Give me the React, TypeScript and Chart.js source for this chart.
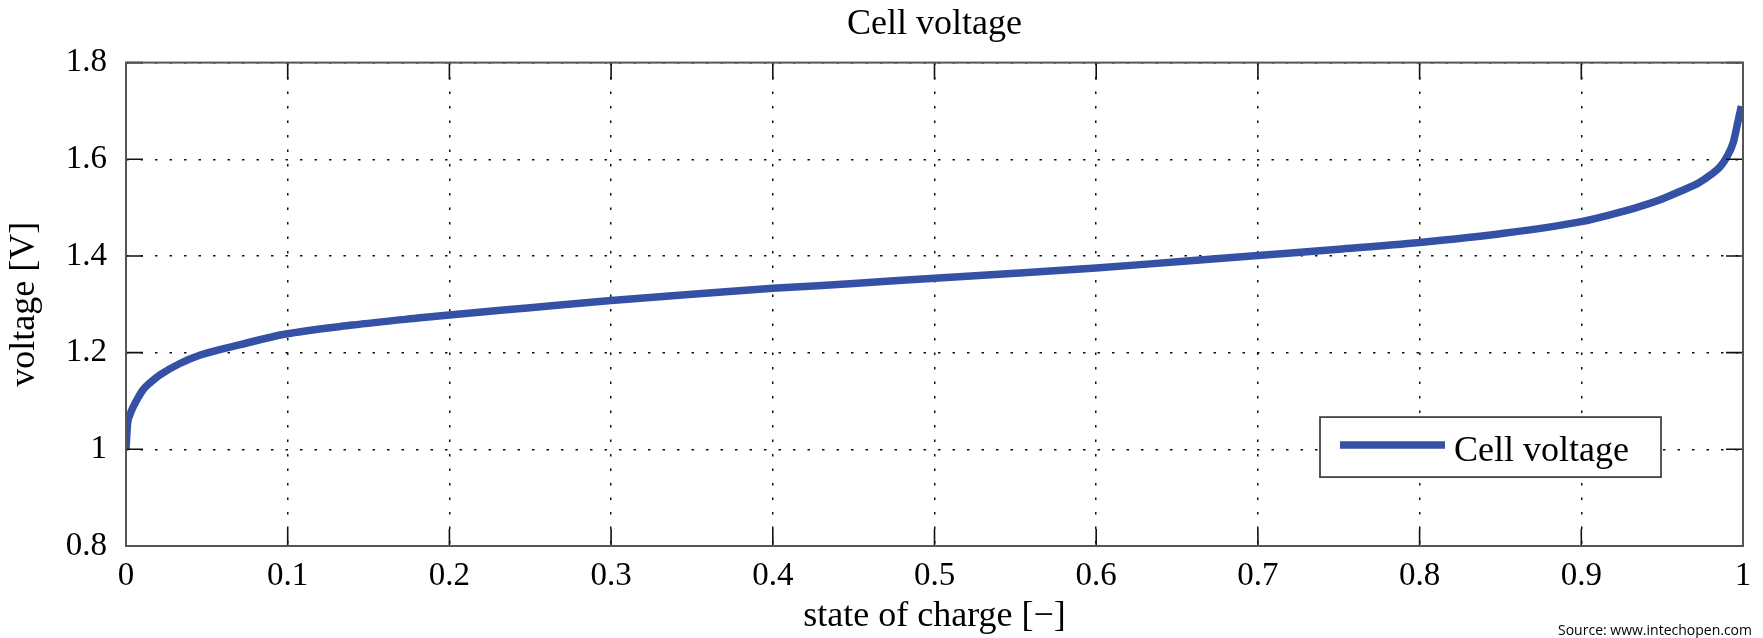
import React, { useEffect, useRef } from "react";
import { Chart, registerables } from "chart.js";

Chart.register(...registerables);

const chartTitle = "Cell voltage";
const seriesLabel = "Cell voltage";
const xAxisTitle = "state of charge [−]";
const yAxisTitle = "voltage [V]";
const sourceNote = "Source: www.intechopen.com";

const xTickLabels = ["0", "0.1", "0.2", "0.3", "0.4", "0.5", "0.6", "0.7", "0.8", "0.9", "1"];
const yTickLabels = ["0.8", "1", "1.2", "1.4", "1.6", "1.8"];

const socValues = [
  0, 0.0005, 0.001, 0.0025, 0.0045, 0.0075, 0.0105, 0.015, 0.021, 0.033, 0.046, 0.07, 0.098, 0.14,
  0.182, 0.2, 0.25, 0.3, 0.35, 0.4, 0.45, 0.5, 0.55, 0.6, 0.65, 0.7, 0.75, 0.8, 0.85, 0.9, 0.92,
  0.936, 0.95, 0.962, 0.973, 0.98, 0.986, 0.99, 0.994, 0.997, 0.999,
];
const voltageValues = [
  1.0, 1.03, 1.054, 1.072, 1.088, 1.107, 1.123, 1.138, 1.154, 1.177, 1.195, 1.216, 1.238, 1.257,
  1.272, 1.278, 1.293, 1.308, 1.321, 1.333, 1.343, 1.354, 1.364, 1.375, 1.388, 1.401, 1.414, 1.428,
  1.446, 1.471, 1.487, 1.502, 1.518, 1.535, 1.552, 1.568, 1.585, 1.605, 1.635, 1.68, 1.71,
];

const SERIF = "'Liberation Serif', 'Times New Roman', serif";
const LINE_COLOR = "#3451a6";

const frameTicksLegendPlugin = {
  id: "frameTicksLegend",
  afterDraw(chart: any) {
    const { ctx, chartArea: a, scales } = chart;
    const xs = scales.x;
    const ys = scales.y;
    ctx.save();
    // inner tick marks on all four sides
    const L = 17;
    ctx.strokeStyle = "#111";
    ctx.lineWidth = 1.6;
    ctx.setLineDash([]);
    ctx.beginPath();
    xs.ticks.forEach((t: any) => {
      const px = xs.getPixelForValue(t.value);
      ctx.moveTo(px, a.bottom);
      ctx.lineTo(px, a.bottom - L);
      ctx.moveTo(px, a.top);
      ctx.lineTo(px, a.top + L);
    });
    ys.ticks.forEach((t: any) => {
      const py = ys.getPixelForValue(t.value);
      ctx.moveTo(a.left, py);
      ctx.lineTo(a.left + L, py);
      ctx.moveTo(a.right, py);
      ctx.lineTo(a.right - L, py);
    });
    ctx.stroke();
    // frame
    ctx.strokeStyle = "#555";
    ctx.lineWidth = 2;
    ctx.strokeRect(a.left, a.top, a.right - a.left, a.bottom - a.top);

    // legend box
    const bw = 341;
    const bh = 60;
    const bx = a.right - 423;
    const by = a.top + 354.5;
    ctx.fillStyle = "#fff";
    ctx.fillRect(bx, by, bw, bh);
    ctx.strokeStyle = "#444";
    ctx.lineWidth = 1.8;
    ctx.strokeRect(bx, by, bw, bh);
    const ds = chart.data.datasets[0];
    ctx.strokeStyle = ds.borderColor;
    ctx.lineWidth = 7.5;
    ctx.beginPath();
    ctx.moveTo(bx + 20, by + 28);
    ctx.lineTo(bx + 125, by + 28);
    ctx.stroke();
    ctx.fillStyle = "#000";
    ctx.font = `36px ${SERIF}`;
    ctx.textBaseline = "alphabetic";
    ctx.textAlign = "left";
    ctx.fillText(ds.label, bx + 134, by + 44);
    ctx.restore();
  },
};

export default function App() {
  const canvasRef = useRef<HTMLCanvasElement | null>(null);

  useEffect(() => {
    if (!canvasRef.current) return;
    const points = socValues.map((s, i) => ({ x: s, y: voltageValues[i] }));
    const chart = new Chart(canvasRef.current, {
      type: "line",
      data: {
        datasets: [
          {
            label: seriesLabel,
            data: points,
            borderColor: LINE_COLOR,
            backgroundColor: LINE_COLOR,
            borderWidth: 7.5,
            pointRadius: 0,
            cubicInterpolationMode: "monotone",
            fill: false,
            clip: 0,
          } as any,
        ],
      },
      options: {
        responsive: false,
        animation: false,
        layout: { padding: { left: 0, right: 20, top: 0, bottom: 0 } },
        plugins: {
          legend: { display: false },
          tooltip: { enabled: false },
          title: {
            display: true,
            text: chartTitle,
            color: "#000",
            fullSize: false,
            font: { family: SERIF, size: 36, weight: "normal" },
            padding: { top: 3.4, bottom: 16 },
          },
        },
        scales: {
          x: {
            type: "linear",
            min: 0,
            max: 1,
            afterFit: (s: any) => {
              s.height = 92;
            },
            ticks: {
              stepSize: 0.1,
              autoSkip: false,
              maxRotation: 0,
              padding: 11,
              color: "#000",
              font: { family: SERIF, size: 33 },
              callback: (_v: any, i: number) => xTickLabels[i] ?? "",
            },
            grid: { color: "#111", lineWidth: 1.5, drawTicks: false },
            border: { display: false, dash: [2.5, 12] },
            title: {
              display: true,
              text: xAxisTitle,
              color: "#000",
              font: { family: SERIF, size: 36 },
              padding: { top: 0, bottom: 0 },
            },
          },
          y: {
            type: "linear",
            min: 0.8,
            max: 1.8,
            afterFit: (s: any) => {
              s.width = 126;
            },
            ticks: {
              stepSize: 0.2,
              padding: 19,
              color: "#000",
              font: { family: SERIF, size: 33 },
              callback: (_v: any, i: number) => yTickLabels[i] ?? "",
            },
            grid: { color: "#111", lineWidth: 1.5, drawTicks: false },
            border: { display: false, dash: [2.5, 12] },
            title: {
              display: true,
              text: yAxisTitle,
              color: "#000",
              font: { family: SERIF, size: 36 },
              padding: { top: 3.4, bottom: 0 },
            },
          },
        },
      },
      plugins: [frameTicksLegendPlugin],
    });
    return () => chart.destroy();
  }, []);

  return (
    <div style={{ position: "absolute", left: 0, top: 0, width: 1763, height: 638, background: "#fff" }}>
      <canvas ref={canvasRef} width={1763} height={638} style={{ display: "block" }} />
      <div
        style={{
          position: "absolute",
          right: 11,
          top: 620,
          fontFamily: "'Open Sans', 'Noto Sans', sans-serif",
          fontSize: 14,
          lineHeight: "19px",
          color: "#000",
          whiteSpace: "nowrap",
        }}
      >
        {sourceNote}
      </div>
    </div>
  );
}
